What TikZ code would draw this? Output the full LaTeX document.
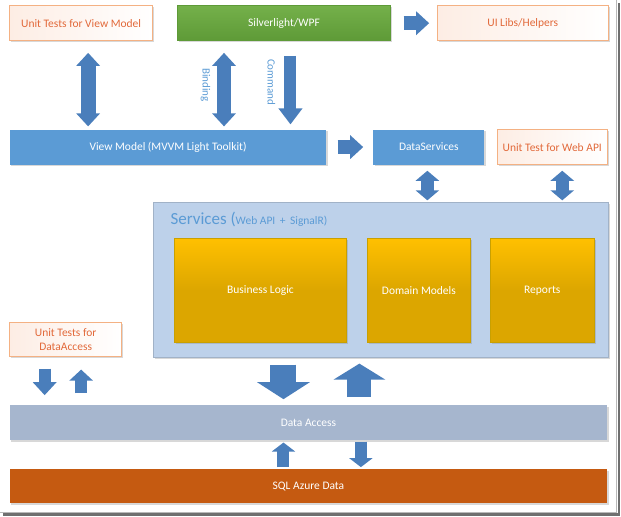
\documentclass[tikz,border=0pt]{standalone}
\usepackage{fontspec}
\setmainfont{Carlito}
\usetikzlibrary{positioning, arrows.meta, shadows}
\definecolor{azulcaja}{HTML}{5B9BD5}
\definecolor{azulflecha}{HTML}{4A7EBB}
\definecolor{naranjatexto}{HTML}{E2693A}
\definecolor{naranjaborde}{HTML}{F4B183}
\definecolor{naranjaclaro}{HTML}{FDEDE4}
\definecolor{verdearriba}{HTML}{74B04A}
\definecolor{verdeabajo}{HTML}{5E9A37}
\definecolor{azulservicio}{HTML}{BDD1EA}
\definecolor{ambarclaro}{HTML}{FFC000}
\definecolor{ambaroscuro}{HTML}{DCA600}
\definecolor{ambarborde}{HTML}{C9A000}
\definecolor{grisazul}{HTML}{A6B6CE}
\definecolor{ladrillo}{HTML}{C55A11}
\tikzset{
	x=1pt, y=-1pt, % un punto por pixel, y hacia abajo
	caja/.style={anchor=north west, inner sep=0pt, minimum height=35pt, align=center, text=white,
		font=\fontsize{11.5}{14}\selectfont,
		drop shadow={shadow xshift=1.3pt, shadow yshift=-1.3pt, opacity=.3}}, % Cajas de texto
	cajaprueba/.style={caja, draw=naranjaborde, left color=naranjaclaro, right color=white, text=naranjatexto},
	cajaverde/.style={caja, draw=verdeabajo, top color=verdearriba, bottom color=verdeabajo},
	cajaazul/.style={caja, fill=azulcaja},
	cajaambar/.style={caja, draw=ambarborde, minimum height=104pt, top color=ambarclaro, bottom color=ambaroscuro, middle color=ambaroscuro},
	cajagris/.style={caja, fill=grisazul},
	cajasql/.style={caja, fill=ladrillo},
	contenedor/.style={caja, draw=azulservicio!85!black, fill=azulservicio},
	titulo/.style={inner sep=0pt, text=azulcaja, font=\fontsize{11.5}{14}\selectfont},
	etiqueta/.style={inner sep=0pt, text=azulcaja, font=\fontsize{11}{14}\selectfont},
	fl/.style={draw=azulflecha, line width=13pt, >={Triangle[width=23pt,length=13pt]}}, % Flechas de bloque
	flgrande/.style={fl, line width=26pt, >={Triangle[width=52pt,length=17pt]}},
	flpeq/.style={fl, line width=12pt, >={Triangle[width=23pt,length=9pt]}},
	marco/.style={draw=gray!55, line width=1pt},
	sombramarco/.style={draw=gray!40!black, line width=2.5pt, opacity=.7}
}
\begin{document}
\begin{tikzpicture}
	\fill[white] (0,0) rectangle (621,516);
	\node[cajaprueba, minimum width=143pt] (utvm) at (9,5) {Unit Tests for View Model};
	\node[cajaverde, minimum width=213pt] (slwpf) at (177,5) {Silverlight/WPF};
	\node[cajaprueba, minimum width=171pt] (uilib) at (437,5) {UI Libs/Helpers};
	\node[cajaazul, minimum width=317pt] (vm) at (9,129) {View Model (MVVM Light Toolkit)};
	\node[cajaazul, minimum width=111pt] (ds) at (373,129) {DataServices};
	\node[cajaprueba, minimum width=110pt] (utapi) at (497,129) {Unit Test for Web API};
	\node[contenedor, minimum width=455pt, minimum height=155pt] (svc) at (153,202) {};
	\node[titulo, anchor=base west] (svct) at (170,224) {{\fontsize{17}{20}\selectfont Services (}Web API \,+\, SignalR)};
	\node[cajaambar, minimum width=172pt] (bl) at (174,238) {Business Logic};
	\node[cajaambar, minimum width=103pt] (dm) at (367,238) {Domain Models};
	\node[cajaambar, minimum width=104pt] (rep) at (490,238) {Reports};
	\node[cajaprueba, minimum width=112pt, minimum height=34pt] (utda) at (9,322) {Unit Tests for\\DataAccess};
	\node[cajagris, minimum width=598pt] (da) at (9,405) {Data Access};
	\node[cajasql, minimum width=598pt, minimum height=34pt] (sql) at (9,469) {SQL Azure Data};
	\draw[fl, <->, line width=15pt, shorten <=12pt, shorten >=3pt] ([xshift=7pt]utvm.south) -- ([xshift=7pt]utvm.south |- vm.north);
	\draw[fl, <->, line width=14pt, shorten <=12pt, shorten >=3pt] ([xshift=-60pt]slwpf.south) -- ([xshift=-60pt]slwpf.south |- vm.north)
		node[etiqueta, midway, xshift=-18.5pt, rotate=-90] {Binding};
	\draw[fl, ->, line width=12pt, >={Triangle[width=23pt,length=16pt]}, shorten <=15pt, shorten >=5pt] ([xshift=6.5pt]slwpf.south) -- ([xshift=6.5pt]slwpf.south |- vm.north)
		node[etiqueta, midway, xshift=-19pt, yshift=3pt, rotate=-90] {Command};
	\draw[fl, ->, line width=14pt, shorten <=13pt, shorten >=8pt] (slwpf.east) -- (uilib.west);
	\draw[fl, ->, line width=14pt, shorten <=11pt, shorten >=10pt] (vm.east) -- (ds.west);
	\draw[fl, <->, >={Triangle[width=23pt,length=10pt]}, shorten <=6pt, shorten >=2pt] ([xshift=-1.5pt]ds.south) -- ([xshift=-1.5pt]ds.south |- svc.north);
	\draw[fl, <->, >={Triangle[width=23pt,length=10pt]}, shorten <=6pt, shorten >=2pt] ([xshift=10pt]utapi.south) -- ([xshift=10pt]utapi.south |- svc.north);
	\draw[flgrande, ->, shorten <=7pt, shorten >=6pt] ([xshift=-97.5pt]svc.south) -- ([xshift=-97.5pt]svc.south |- da.north);
	\draw[flgrande, ->, line width=24pt, >={Triangle[width=51pt,length=16pt]}, shorten <=8pt, shorten >=6pt] ([xshift=-21.5pt]svc.south |- da.north) -- ([xshift=-21.5pt]svc.south);
	\draw[fl, ->, line width=12pt, shorten <=12pt, shorten >=10pt] ([xshift=-21pt]utda.south) -- ([xshift=-21pt]utda.south |- da.north);
	\draw[fl, ->, line width=12pt, >={Triangle[width=23pt,length=11pt]}, shorten <=12pt, shorten >=13pt] ([xshift=15.5pt]utda.south |- da.north) -- ([xshift=15.5pt]utda.south);
	\draw[flpeq, ->, shorten <=2pt, shorten >=2pt] ([xshift=-25pt]da.south |- sql.north) -- ([xshift=-25pt]da.south);
	\draw[flpeq, ->, shorten <=1pt, shorten >=2pt] ([xshift=52.5pt]da.south) -- ([xshift=52.5pt]da.south |- sql.north);
	\draw[marco] (616.5,0) -- (616.5,512.5) -- (0,512.5);
	\draw[sombramarco] (619,3) -- (619,514.5) -- (3,514.5);
\end{tikzpicture}
\end{document}
